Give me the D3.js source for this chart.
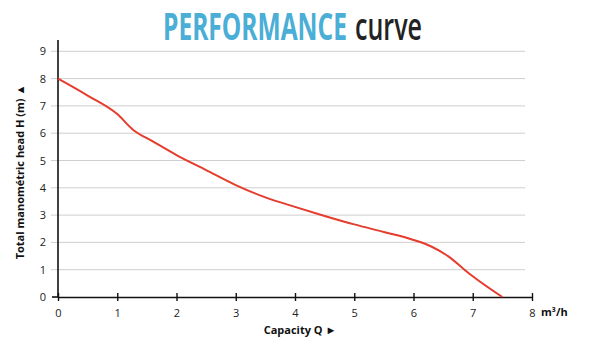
<!DOCTYPE html>
<html>
<head>
<meta charset="utf-8">
<script src="https://cdn.jsdelivr.net/npm/d3@7"></script>
<style>
  html, body { margin: 0; padding: 0; background: #fff; }
  svg { display: block; }
</style>
</head>
<body>
<svg id="chart" width="600" height="350"></svg>
<script>
// Pump performance curve: capacity Q (m³/h) vs total manometric head H (m)
const capacity = [0, 0.5, 1.0, 1.27, 1.6, 2.0, 2.5, 3.0, 3.5, 4.0, 4.5, 5.0, 5.5, 6.0, 6.3, 6.6, 6.85, 7.0, 7.5];
const head     = [8.0, 7.38, 6.7, 6.12, 5.7, 5.2, 4.65, 4.1, 3.65, 3.3, 2.97, 2.66, 2.38, 2.09, 1.85, 1.47, 1.02, 0.76, 0];
const xTicks = [0, 1, 2, 3, 4, 5, 6, 7, 8];
const yTicks = [0, 1, 2, 3, 4, 5, 6, 7, 8, 9];

const svg = d3.select("#chart");
const font = "'Open Sans', 'Noto Sans', sans-serif";

const x = d3.scaleLinear().domain([0, 8]).range([58, 532]);
const y = d3.scaleLinear().domain([0, 9]).range([297, 51.3]);

// Title words, each squeezed horizontally into a condensed look
function condensed(str, left, width, weight, fill) {
  const t = svg.append("text")
    .attr("font-family", font)
    .attr("font-size", 38)
    .attr("font-weight", weight)
    .attr("fill", fill)
    .text(str);
  const natural = t.node().getComputedTextLength();
  t.attr("transform", `translate(${left},40) scale(${width / natural},1)`);
}
condensed("PERFORMANCE", 163, 184, "bold", "#4aaed6");
condensed("curve", 355, 67, "600", "#222");

// Horizontal grid lines (extend slightly left of the axis)
svg.append("g")
  .selectAll("line")
  .data(yTicks.filter(d => d > 0))
  .join("line")
  .attr("x1", 51).attr("x2", 525)
  .attr("y1", d => y(d)).attr("y2", d => y(d))
  .attr("stroke", "#cfcfcf").attr("stroke-width", 1);

// Y axis
const yAxis = svg.append("g")
  .attr("transform", `translate(${x(0)},0)`)
  .call(d3.axisLeft(y).tickValues(yTicks).tickSize(0).tickPadding(12));
yAxis.select(".domain").remove();
yAxis.selectAll("text").attr("font-family", font).attr("font-size", 11).attr("fill", "#222");
svg.append("line")
  .attr("x1", x(0)).attr("x2", x(0))
  .attr("y1", 40).attr("y2", y(0))
  .attr("stroke", "#111").attr("stroke-width", 1.6);

// X axis with ticks crossing the line
const xAxis = svg.append("g")
  .attr("transform", `translate(0,${y(0)})`)
  .call(d3.axisBottom(x).tickValues(xTicks).tickSize(0).tickPadding(12));
xAxis.select(".domain").attr("stroke", "#111").attr("stroke-width", 1.6);
xAxis.selectAll(".tick").append("line")
  .attr("y1", -4).attr("y2", 4)
  .attr("stroke", "#111").attr("stroke-width", 1.4);
xAxis.selectAll("text").attr("font-family", font).attr("font-size", 11).attr("fill", "#222");
svg.append("line")
  .attr("x1", x(0) - 6).attr("x2", x(0))
  .attr("y1", y(0)).attr("y2", y(0))
  .attr("stroke", "#111").attr("stroke-width", 1.6);

// Unit label
svg.append("text")
  .attr("x", 541).attr("y", 316)
  .attr("font-family", font).attr("font-weight", "bold").attr("font-size", 11)
  .attr("fill", "#111")
  .text("m³/h");

// Axis titles
svg.append("text")
  .attr("x", 300).attr("y", 334)
  .attr("text-anchor", "middle")
  .attr("font-family", font).attr("font-weight", "bold").attr("font-size", 11)
  .attr("fill", "#111")
  .text("Capacity Q  ►");

svg.append("text")
  .attr("transform", "translate(24,172) rotate(-90)")
  .attr("text-anchor", "middle")
  .attr("font-family", font).attr("font-weight", "bold").attr("font-size", 11)
  .attr("fill", "#111")
  .text("Total manométric head H (m)  ▲");

// Curve
const data = capacity.map((q, i) => ({ q, h: head[i] }));
svg.append("path")
  .datum(data)
  .attr("fill", "none")
  .attr("stroke", "#e63c2e")
  .attr("stroke-width", 2)
  .attr("d", d3.line().x(d => x(d.q)).y(d => y(d.h)).curve(d3.curveMonotoneX));
</script>
</body>
</html>
